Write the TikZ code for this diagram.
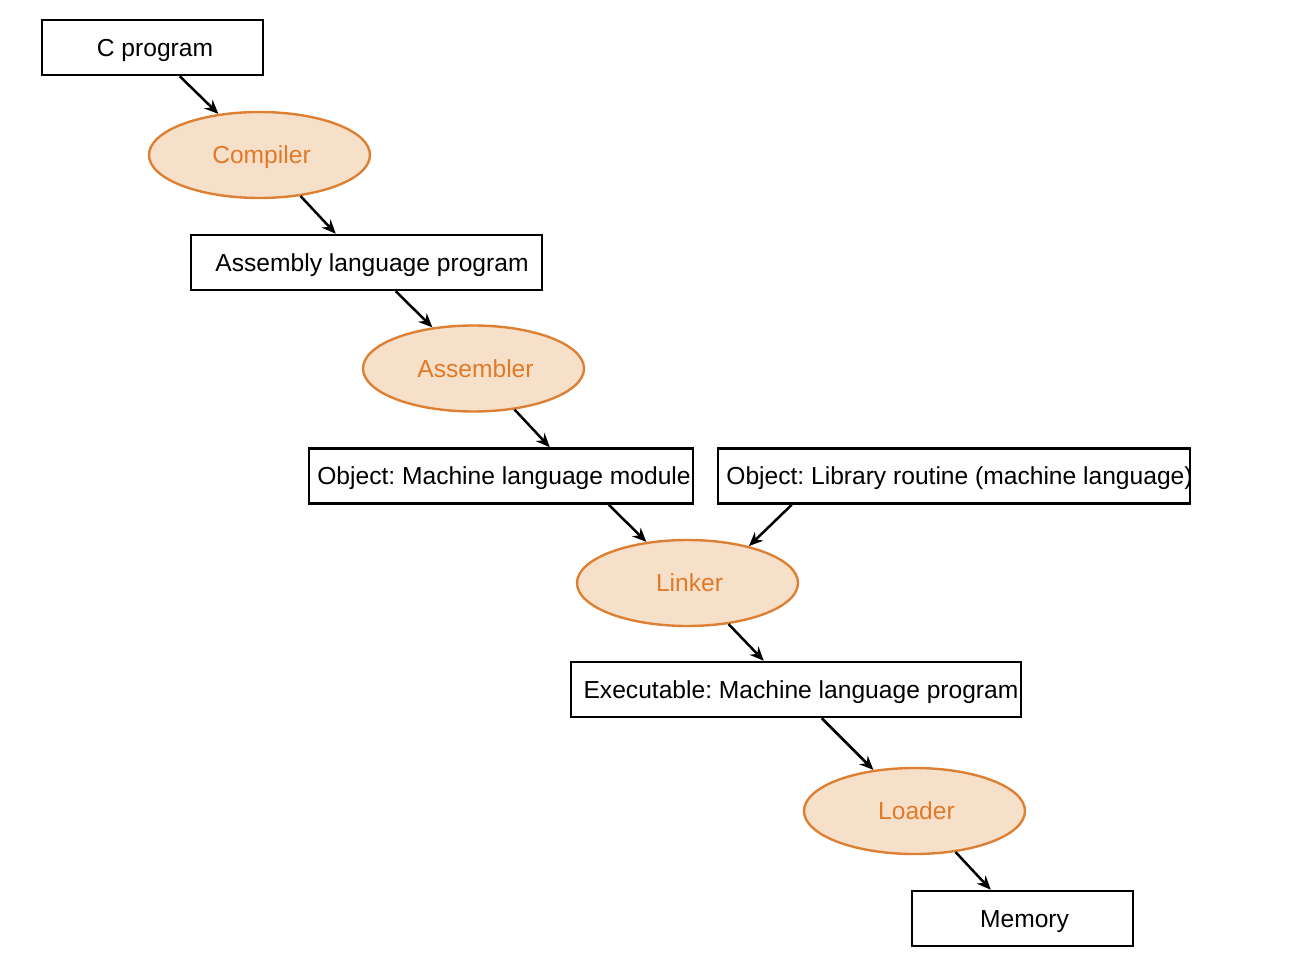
\documentclass[tikz,border=0pt]{standalone}
\usepackage{fontspec}
\setmainfont{Liberation Sans}
\usetikzlibrary{shapes.geometric,arrows.meta}
\definecolor{ellfill}{RGB}{247,224,201}
\definecolor{elldraw}{RGB}{222,128,52}
\definecolor{elltext}{RGB}{224,122,40}
\newcommand\boxtext[3]{\makebox[#1]{\hspace*{#2}#3}}
\begin{document}
\frenchspacing
\begin{tikzpicture}[x=0.5pt,y=-0.5pt,
  font=\fontsize{12.3}{14}\selectfont,
  boxnode/.style={draw=black,line width=1.25pt,fill=white,minimum height=27.5pt,inner xsep=0pt,inner ysep=0pt,text height=8.8pt,text depth=0pt,text=black},
  procnode/.style={ellipse,draw=elldraw,line width=1.2pt,fill=ellfill,minimum width=110.5pt,minimum height=43pt,inner sep=0pt,text height=8.8pt,text depth=0pt,text=elltext},
  conn/.style={line width=1.25pt,-{Stealth[length=7pt,width=6pt]}}]
\useasboundingbox (0,0) rectangle (1294,962);
\node[boxnode,minimum width=110.5pt] (cprog) at (152.5,47.5) {\boxtext{100pt}{2.5pt}{C program}};
\node[procnode] (compiler) at (259.5,155) {\boxtext{60pt}{2pt}{Compiler}};
\node[boxnode,minimum width=175.5pt] (asm) at (366.5,262.5) {\boxtext{170pt}{5.5pt}{Assembly language program}};
\node[procnode] (assembler) at (473.5,368.5) {\boxtext{60pt}{2pt}{Assembler}};
\node[boxnode,minimum width=192pt] (objm) at (501,476) {\boxtext{180pt}{3pt}{Object: Machine language module}};
\node[boxnode,minimum width=236pt] (lib) at (954,476) {\boxtext{220pt}{5.5pt}{Object: Library routine (machine language)}};
\node[procnode] (linker) at (687.5,583) {\boxtext{60pt}{2pt}{Linker}};
\node[boxnode,minimum width=225pt] (exe) at (796,689.5) {\boxtext{210pt}{5pt}{Executable: Machine language program}};
\node[procnode] (loader) at (914.5,811) {\boxtext{60pt}{2pt}{Loader}};
\node[boxnode,minimum width=110.5pt] (memory) at (1022.5,918.5) {\boxtext{100pt}{2pt}{Memory}};
\draw[conn] ([xshift=69.5pt]cprog.south west) -- (compiler.135);
\draw[conn] (compiler.-45) -- ([xshift=73pt]asm.north west);
\draw[conn] ([xshift=103pt]asm.south west) -- (assembler.135);
\draw[conn] (assembler.-45) -- ([xshift=121pt]objm.north west);
\draw[conn] ([xshift=150.5pt]objm.south west) -- (linker.135);
\draw[conn] ([xshift=37.5pt]lib.south west) -- (linker.31);
\draw[conn] (linker.-45) -- ([xshift=97pt]exe.north west);
\draw[conn] ([xshift=126pt]exe.south west) -- (loader.135);
\draw[conn] (loader.-45) -- ([xshift=40pt]memory.north west);
\end{tikzpicture}
\end{document}
